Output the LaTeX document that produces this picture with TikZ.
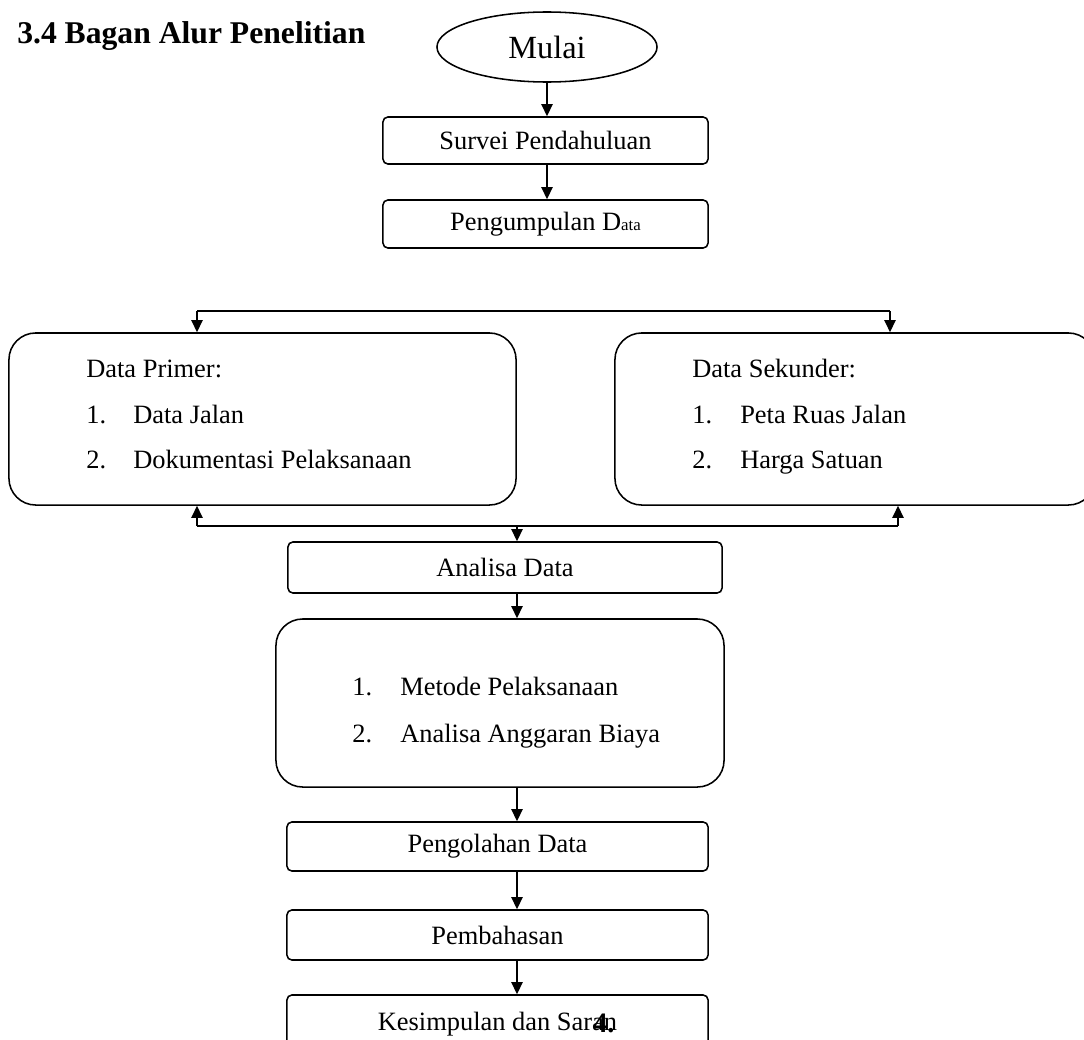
\documentclass[tikz,border=0pt]{standalone}
\usepackage{fontspec}
\setmainfont{Liberation Serif}
\usetikzlibrary{shapes.geometric,arrows.meta,positioning}
\tikzset{
  stepbox/.style={draw, rounded corners=3.5pt, line width=1.1pt, inner sep=0pt},
  listbox/.style={draw, rounded corners=19pt, line width=1.1pt, inner sep=0pt},
  edgeflow/.style={line width=1.1pt, -{Triangle[length=3mm,width=2.8mm]}},
  edgeline/.style={line width=1.1pt},
  itemtext/.style={anchor=base west, inner sep=0pt}
}
\newcommand\flowfont{\fontsize{18.8pt}{22pt}\selectfont}

\begin{document}
\begin{tikzpicture}[x=0.025cm, y=-0.025cm, font=\flowfont]
\useasboundingbox (0,0) rectangle (1084,1039);
\node[itemtext, font=\fontsize{22.5pt}{26pt}\selectfont\bfseries] (judul) at (17,43) {3.4 Bagan Alur Penelitian};
\node[ellipse, draw, line width=1.1pt, minimum width=5.5cm, minimum height=1.75cm, inner sep=0pt, font=\fontsize{23pt}{27pt}\selectfont] (mulai) at (547,47) {Mulai};
\node[stepbox, minimum width=8.125cm, minimum height=1.175cm] (survei) at (545.5,140.5) {Survei Pendahuluan};
\node[stepbox, minimum width=8.125cm, minimum height=1.2cm] (kumpul) at (545.5,224) {Pengumpulan D{\fontsize{12pt}{14pt}\selectfont ata}};
\draw[edgeflow] (mulai.south) -- (mulai.south |- survei.north);
\draw[edgeflow] (survei.south -| mulai.south) -- (kumpul.north -| mulai.south);
% data primer dan sekunder
\node[listbox, minimum width=12.675cm, minimum height=4.3cm] (primer) at (262.5,419) {};
\node[itemtext] (primerjudul) at (86,377) {Data Primer:};
\node[itemtext] (primersatu) at (86,423) {1.};
\node[itemtext] (primersatut) at (133,423) {Data Jalan};
\node[itemtext] (primerdua) at (86,468) {2.};
\node[itemtext] (primerduat) at (133,468) {Dokumentasi Pelaksanaan};
\node[listbox, minimum width=12cm, minimum height=4.3cm] (sekunder) at (855,419) {};
\node[itemtext] (sekunderjudul) at (692,377) {Data Sekunder:};
\node[itemtext] (sekundersatu) at (692,423) {1.};
\node[itemtext] (sekundersatut) at (740,423) {Peta Ruas Jalan};
\node[itemtext] (sekunderdua) at (692,468) {2.};
\node[itemtext] (sekunderduat) at (740,468) {Harga Satuan};
\coordinate (bagikiri) at (197,311);
\coordinate (bagikanan) at (890,311);
\draw[edgeline] (bagikiri) -- (bagikanan);
\draw[edgeflow] (bagikiri) -- (bagikiri |- primer.north);
\draw[edgeflow] (bagikanan) -- (bagikanan |- sekunder.north);
\coordinate (gabungkiri) at (197,526);
\coordinate (gabungkanan) at (898,526);
\coordinate (gabungtengah) at (517,526);
\draw[edgeline] (gabungkiri) -- (gabungkanan);
\draw[edgeflow] (gabungkiri) -- (gabungkiri |- primer.south);
\draw[edgeflow] (gabungkanan) -- (gabungkanan |- sekunder.south);
% analisa
\node[stepbox, minimum width=10.85cm, minimum height=1.275cm] (analisa) at (505,567.5) {Analisa Data};
\draw[edgeflow] (gabungtengah) -- (gabungtengah |- analisa.north);
\node[listbox, minimum width=11.2cm, minimum height=4.2cm] (metode) at (500,703) {};
\node[itemtext] (metodesatu) at (352,695) {1.};
\node[itemtext] (metodesatut) at (400,695) {Metode Pelaksanaan};
\node[itemtext] (metodedua) at (352,742) {2.};
\node[itemtext] (metodeduat) at (400,742) {Analisa Anggaran Biaya};
\draw[edgeflow] (analisa.south -| gabungtengah) -- (metode.north -| gabungtengah);
\node[stepbox, minimum width=10.525cm, minimum height=1.225cm] (olah) at (497.5,846.5) {Pengolahan Data};
\node[stepbox, minimum width=10.525cm, minimum height=1.25cm] (bahas) at (497.5,935) {Pembahasan};
\node[stepbox, minimum width=10.525cm, minimum height=1.45cm] (simpul) at (497.5,1024) {Kesimpulan dan Saran};
\node[itemtext, font=\fontsize{20pt}{24pt}\selectfont\bfseries] (nomor) at (593,1032) {4.};
\draw[edgeflow] (metode.south -| gabungtengah) -- (olah.north -| gabungtengah);
\draw[edgeflow] (olah.south -| gabungtengah) -- (bahas.north -| gabungtengah);
\draw[edgeflow] (bahas.south -| gabungtengah) -- (simpul.north -| gabungtengah);
\end{tikzpicture}
\end{document}
